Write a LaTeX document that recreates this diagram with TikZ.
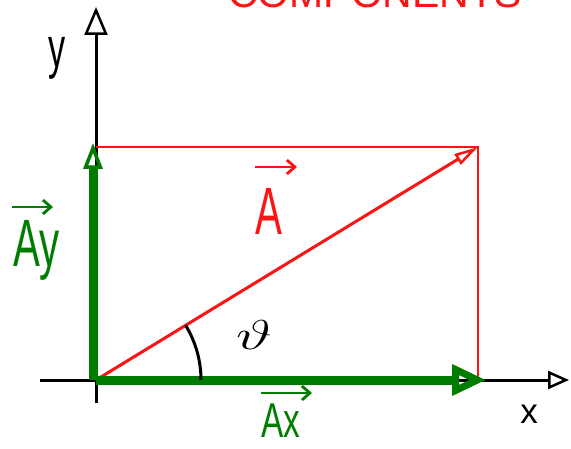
\documentclass[tikz,border=0pt]{standalone}
\usepackage{fontspec}
\setmainfont{Liberation Sans}
\usetikzlibrary{arrows.meta}
\definecolor{vgreen}{RGB}{0,125,0}
\definecolor{vred}{RGB}{250,20,20}
\begin{document}
\begin{tikzpicture}[x=1pt,y=1pt,
  axis/.style={line width=3pt, black},
  comp/.style={line width=9pt, vgreen},
  frame/.style={line width=1.5pt, vred},
  vecA/.style={line width=3pt, vred},
  lbl/.style={inner sep=0pt, outer sep=0pt},
  overarrow/.style={line width=2.8pt, -{Straight Barb[length=8pt,width=14pt]}}]
\useasboundingbox (0,0) rectangle (571,448);
\clip (0,0) rectangle (571,448);
\fill[white] (0,0) rectangle (571,448);
% key points
\coordinate (O) at (96,68);
\coordinate (ybot) at (96,45);
\coordinate (ytop) at (96,441);
\coordinate (xleft) at (40,68);
\coordinate (xright) at (569,68);
\coordinate (P) at (478,301);
\coordinate (Ptop) at (96,301);
\coordinate (Pbot) at (478,68);
\coordinate (AxTip) at (486,68);
\coordinate (AyStart) at (93,68);
\coordinate (AyTip) at (93,305);
% title (cut off at top)
\node[lbl, anchor=base west, text=vred, font=\fontsize{41}{41}\selectfont] (title) at (228,440) {COMPONENTS};
% axes
\draw[axis, -{Triangle[open, length=28pt, width=23pt, line width=2.5pt]}] (ybot) -- (ytop);
\draw[axis, -{Triangle[open, length=21pt, width=18pt, line width=2.5pt]}] (xleft) -- (xright);
% red rectangle
\draw[frame] (Ptop) -- (P) -- (Pbot);
% vector A
\draw[vecA, -{Triangle[open, length=24pt, width=12pt, line width=2.5pt]}] (O) -- (P);
% components
\draw[comp, -{Triangle[open, length=34pt, width=30pt, line width=7pt]}] (O) -- (AxTip);
\draw[comp, -{Triangle[open, length=26pt, width=19pt, line width=3.5pt]}] (AyStart) -- (AyTip);
% angle
\draw[line width=3pt] ([shift={(31.4:105)}]O) arc[start angle=31.4, end angle=0, radius=105];
\node[lbl, font=\Large, xscale=4.3, yscale=2.9, transform shape] (theta) at (254,113) {$\vartheta$};
% labels
\node[lbl, font=\fontsize{57}{57}\selectfont, xscale=0.6, transform shape] (ylab) at (57,390) {y};
\node[lbl, font=\fontsize{35}{35}\selectfont] (xlab) at (529,34) {x};
\node[lbl, anchor=base west, text=vred, font=\fontsize{67}{67}\selectfont, xscale=0.6, transform shape] (Alab) at (255,213) {A};
\coordinate (Aarr1) at (255,281); \coordinate (Aarr2) at (297,281);
\draw[overarrow, vred] (Aarr1) -- (Aarr2);
\node[lbl, anchor=base west, text=vgreen, font=\fontsize{67}{67}\selectfont, xscale=0.6, transform shape] (Aylab) at (13,181) {Ay};
\coordinate (Ayarr1) at (12,241); \coordinate (Ayarr2) at (53,241);
\draw[overarrow, vgreen] (Ayarr1) -- (Ayarr2);
\node[lbl, anchor=base west, text=vgreen, font=\fontsize{49}{49}\selectfont, xscale=0.68, transform shape] (Axlab) at (261,11) {Ax};
\coordinate (Axarr1) at (261,55); \coordinate (Axarr2) at (312,55);
\draw[overarrow, vgreen] (Axarr1) -- (Axarr2);
\end{tikzpicture}
\end{document}
